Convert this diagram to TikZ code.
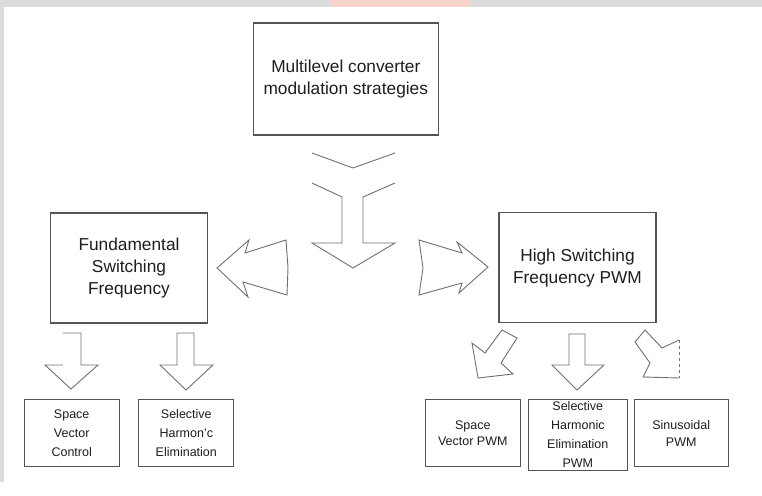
\documentclass[tikz,border=0pt]{standalone}
\usepackage{fontspec}
\setmainfont{Liberation Sans}
\usepackage{tikz}
\usepackage{xcolor}
\usetikzlibrary{arrows.meta,calc,positioning}
\definecolor{BoxLine}{HTML}{555555}
\definecolor{ArrowLine}{HTML}{707070}
\definecolor{TextGray}{HTML}{1E1E1E}
\definecolor{BandGray}{HTML}{DCDCDC}
\definecolor{BandPink}{HTML}{F6D3CB}
\tikzset{
  mlroot/.style={draw=BoxLine, fill=white, line width=1.3pt, align=center, text=TextGray, minimum width=185pt, minimum height=112pt, font=\fontsize{17.3}{22}\selectfont},
  mlmid/.style={draw=BoxLine, fill=white, line width=1.2pt, align=center, text=TextGray, minimum width=157pt, minimum height=110pt, font=\fontsize{17.3}{22}\selectfont},
  mlleaf/.style={draw=BoxLine, fill=white, line width=1.2pt, align=center, text=TextGray, inner sep=1pt, minimum width=95pt, minimum height=67pt, font=\fontsize{12.5}{16.5}\selectfont},
  mlleaftall/.style={mlleaf, font=\fontsize{12.5}{19}\selectfont},
  mlarrow/.style={draw=ArrowLine, line width=0.9pt, fill=white, line join=miter},
  mlopen/.style={draw=ArrowLine, line width=0.9pt, line join=miter}
}
\begin{document}
\begin{tikzpicture}[x=1pt,y=-1pt]
  \useasboundingbox (0,0) rectangle (762,495);
  \fill[white] (0,0) rectangle (762,495);
  \fill[BandGray] (0,0) rectangle (762,7);
  \fill[BandGray] (0,0) rectangle (4,482);
  \fill[BandPink] (330,0) rectangle (470,7);

  \node[mlroot] (root) at (345.8,79) {Multilevel converter\\modulation strategies};
  \node[mlmid] (fund) at (129,268) {Fundamental\\Switching\\Frequency};
  \node[mlmid] (high) at (577.5,267.7) {High Switching\\Frequency PWM};

  \node[mlleaftall] (svc) at (71.7,433) {Space\\Vector\\Control};
  \node[mlleaftall] (she) at (186.3,433) {Selective\\Harmon'c\\Elimination};
  \node[mlleaf] (svpwm) at (472.8,433.3) {Space\\Vector PWM};
  \node[mlleaftall, minimum width=99pt, minimum height=71pt] (shepwm) at (577.8,434.7) {Selective\\Harmonic\\Elimination\\PWM};
  \node[mlleaf, minimum width=94pt] (spwm) at (681.2,433.3) {Sinusoidal\\PWM};

  \draw[mlopen] (312,153) -- (353,168) -- (395,153);
  \draw[mlopen] (312,183) -- (342,197) -- (342,243) -- (312,243) -- (353,268) -- (395,243) -- (363,243) -- (363,197) -- (395,183);

  \draw[mlarrow] (217,268) -- (249,240) -- (245,253) -- (286,240) -- (288,268) -- (287,295) -- (243,282) -- (248,297) -- cycle;
  \draw[mlarrow] (419,240) -- (462,253) -- (457,242) -- (488,267) -- (459,293) -- (462,283) -- (419,295) -- (423,268) -- cycle;

  \draw[mlopen] (63,333) -- (81,333) -- (81,365) -- (98,365) -- (71,389) -- (45,365) -- (63,365);
  \draw[mlarrow] (177,333) -- (194,333) -- (194,365) -- (213,365) -- (186,390) -- (160,365) -- (177,365) -- cycle;

  \draw[mlarrow] (472,343) -- (485,353) -- (502,330) -- (517,338) -- (501,363) -- (513,374) -- (478,378) -- cycle;
  \draw[mlarrow] (569,334) -- (585,334) -- (585,365) -- (604,365) -- (577,390) -- (552,365) -- (569,365) -- cycle;
  \fill[white] (635,342) -- (645,330) -- (662,348) -- (679,340) -- (679,378) -- (643,377) -- (650,363) -- cycle;
  \draw[mlopen] (679,378) -- (643,377) -- (650,363) -- (635,342) -- (645,330) -- (662,348) -- (679,340);
  \draw[mlopen, dashed] (679,340) -- (679,378);
\end{tikzpicture}
\end{document}
